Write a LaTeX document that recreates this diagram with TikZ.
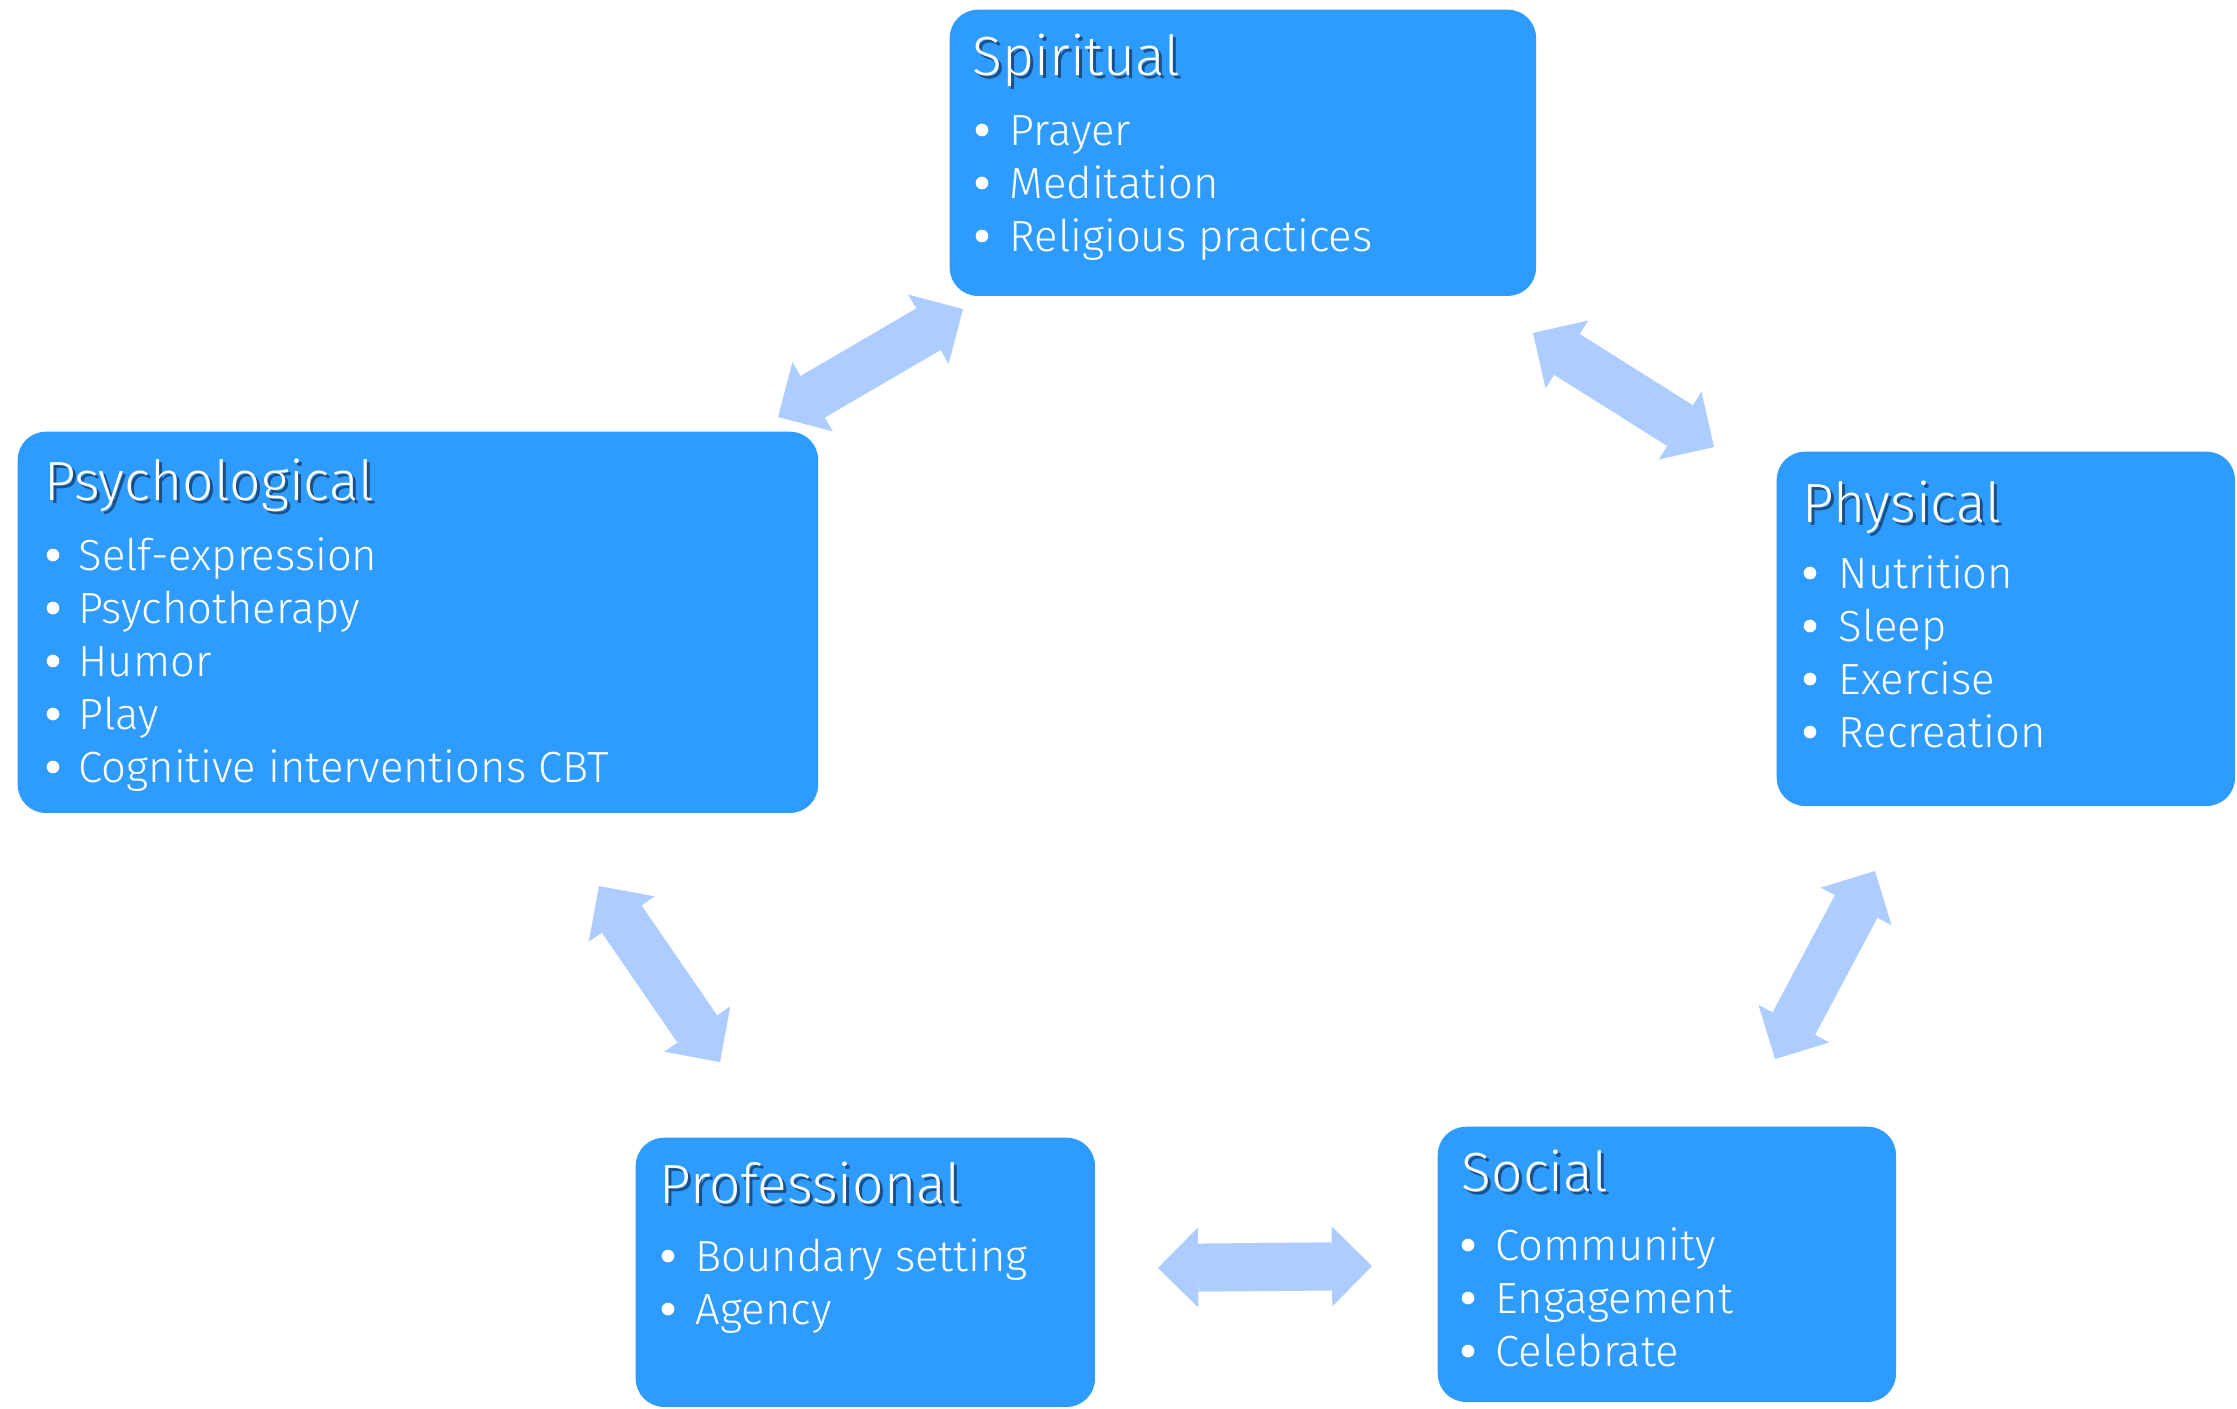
\documentclass[tikz,border=0pt]{standalone}
\usepackage{fontspec}
\setmainfont{Fira Sans}[UprightFont=* Light]
\usetikzlibrary{arrows.meta}

\definecolor{boxblue}{HTML}{2E9CFF}
\definecolor{arrowblue}{HTML}{ADCCFF}
\definecolor{shadowblue}{HTML}{1B4F87}

\begin{document}
\begin{tikzpicture}[x=0.01cm,y=-0.01cm,
    area/.style={fill=boxblue, rounded corners=8pt, anchor=north west, inner sep=0pt},
    heading/.style={anchor=base west, inner sep=0pt, text=white, font=\fontsize{15.7}{18}\selectfont},
    headshadow/.style={heading, text=shadowblue},
    item/.style={anchor=base west, inner sep=0pt, text=white, font=\fontsize{12.4}{15}\selectfont},
    link/.style={draw=arrowblue, line width=13.7pt,
      arrows={Triangle[length=11.4pt,width=22.8pt,line width=0pt]-Triangle[length=11.4pt,width=22.8pt,line width=0pt]}}]
  \useasboundingbox (0,0) rectangle (2237,1408);

  % Spiritual
  \node[area, minimum width=5.86cm, minimum height=2.86cm] (spiritual) at (949,9) {};
  \node[headshadow] (spiritual-sh) at (975,78) {Spiritual};
  \node[heading] (spiritual-t) at (972,75) {Spiritual};
  \foreach \txt [count=\i] in {Prayer, Meditation, Religious practices} {
    \node[item] (spiritual-\i) at (1009,92+53*\i) {\txt};
    \fill[white] (982,77+53*\i) circle (1.8pt);
  }

  % Psychological
  \node[area, minimum width=8.00cm, minimum height=3.81cm] (psycho) at (17,431) {};
  \node[headshadow] (psycho-sh) at (47,503) {Psychological};
  \node[heading] (psycho-t) at (44,500) {Psychological};
  \foreach \txt [count=\i] in {Self-expression, Psychotherapy, Humor, Play, Cognitive interventions CBT} {
    \node[item] (psycho-\i) at (78,517+53*\i) {\txt};
    \fill[white] (53,502+53*\i) circle (1.8pt);
  }

  % Physical
  \node[area, minimum width=4.58cm, minimum height=3.54cm] (physical) at (1776,451) {};
  \node[headshadow] (physical-sh) at (1805,525) {Physical};
  \node[heading] (physical-t) at (1802,522) {Physical};
  \foreach \txt [count=\i] in {Nutrition, Sleep, Exercise, Recreation} {
    \node[item] (physical-\i) at (1838,535+53*\i) {\txt};
    \fill[white] (1810,520+53*\i) circle (1.8pt);
  }

  % Professional
  \node[area, minimum width=4.59cm, minimum height=2.69cm] (profes) at (635,1137) {};
  \node[headshadow] (profes-sh) at (662,1206) {Professional};
  \node[heading] (profes-t) at (659,1203) {Professional};
  \foreach \txt [count=\i] in {Boundary setting, Agency} {
    \node[item] (profes-\i) at (695,1218+53*\i) {\txt};
    \fill[white] (668,1203+53*\i) circle (1.8pt);
  }

  % Social
  \node[area, minimum width=4.58cm, minimum height=2.75cm] (social) at (1437,1126) {};
  \node[headshadow] (social-sh) at (1464,1194) {Social};
  \node[heading] (social-t) at (1461,1191) {Social};
  \foreach \txt [count=\i] in {Community, Engagement, Celebrate} {
    \node[item] (social-\i) at (1495,1207+53*\i) {\txt};
    \fill[white] (1468,1192+53*\i) circle (1.8pt);
  }

  % Arrow ends
  \coordinate (a1) at (963,309);
  \coordinate (b1) at (778,417);
  \coordinate (a2) at (1533,333);
  \coordinate (b2) at (1714,447);
  \coordinate (a3) at (599,886);
  \coordinate (b3) at (720,1062);
  \coordinate (a4) at (1875,871);
  \coordinate (b4) at (1775,1059);
  \coordinate (a5) at (1158,1268);
  \coordinate (b5) at (1372,1266);

  % Double arrows
  \foreach \k in {1,...,5}
    \draw[link] (a\k) -- (b\k);
\end{tikzpicture}
\end{document}
